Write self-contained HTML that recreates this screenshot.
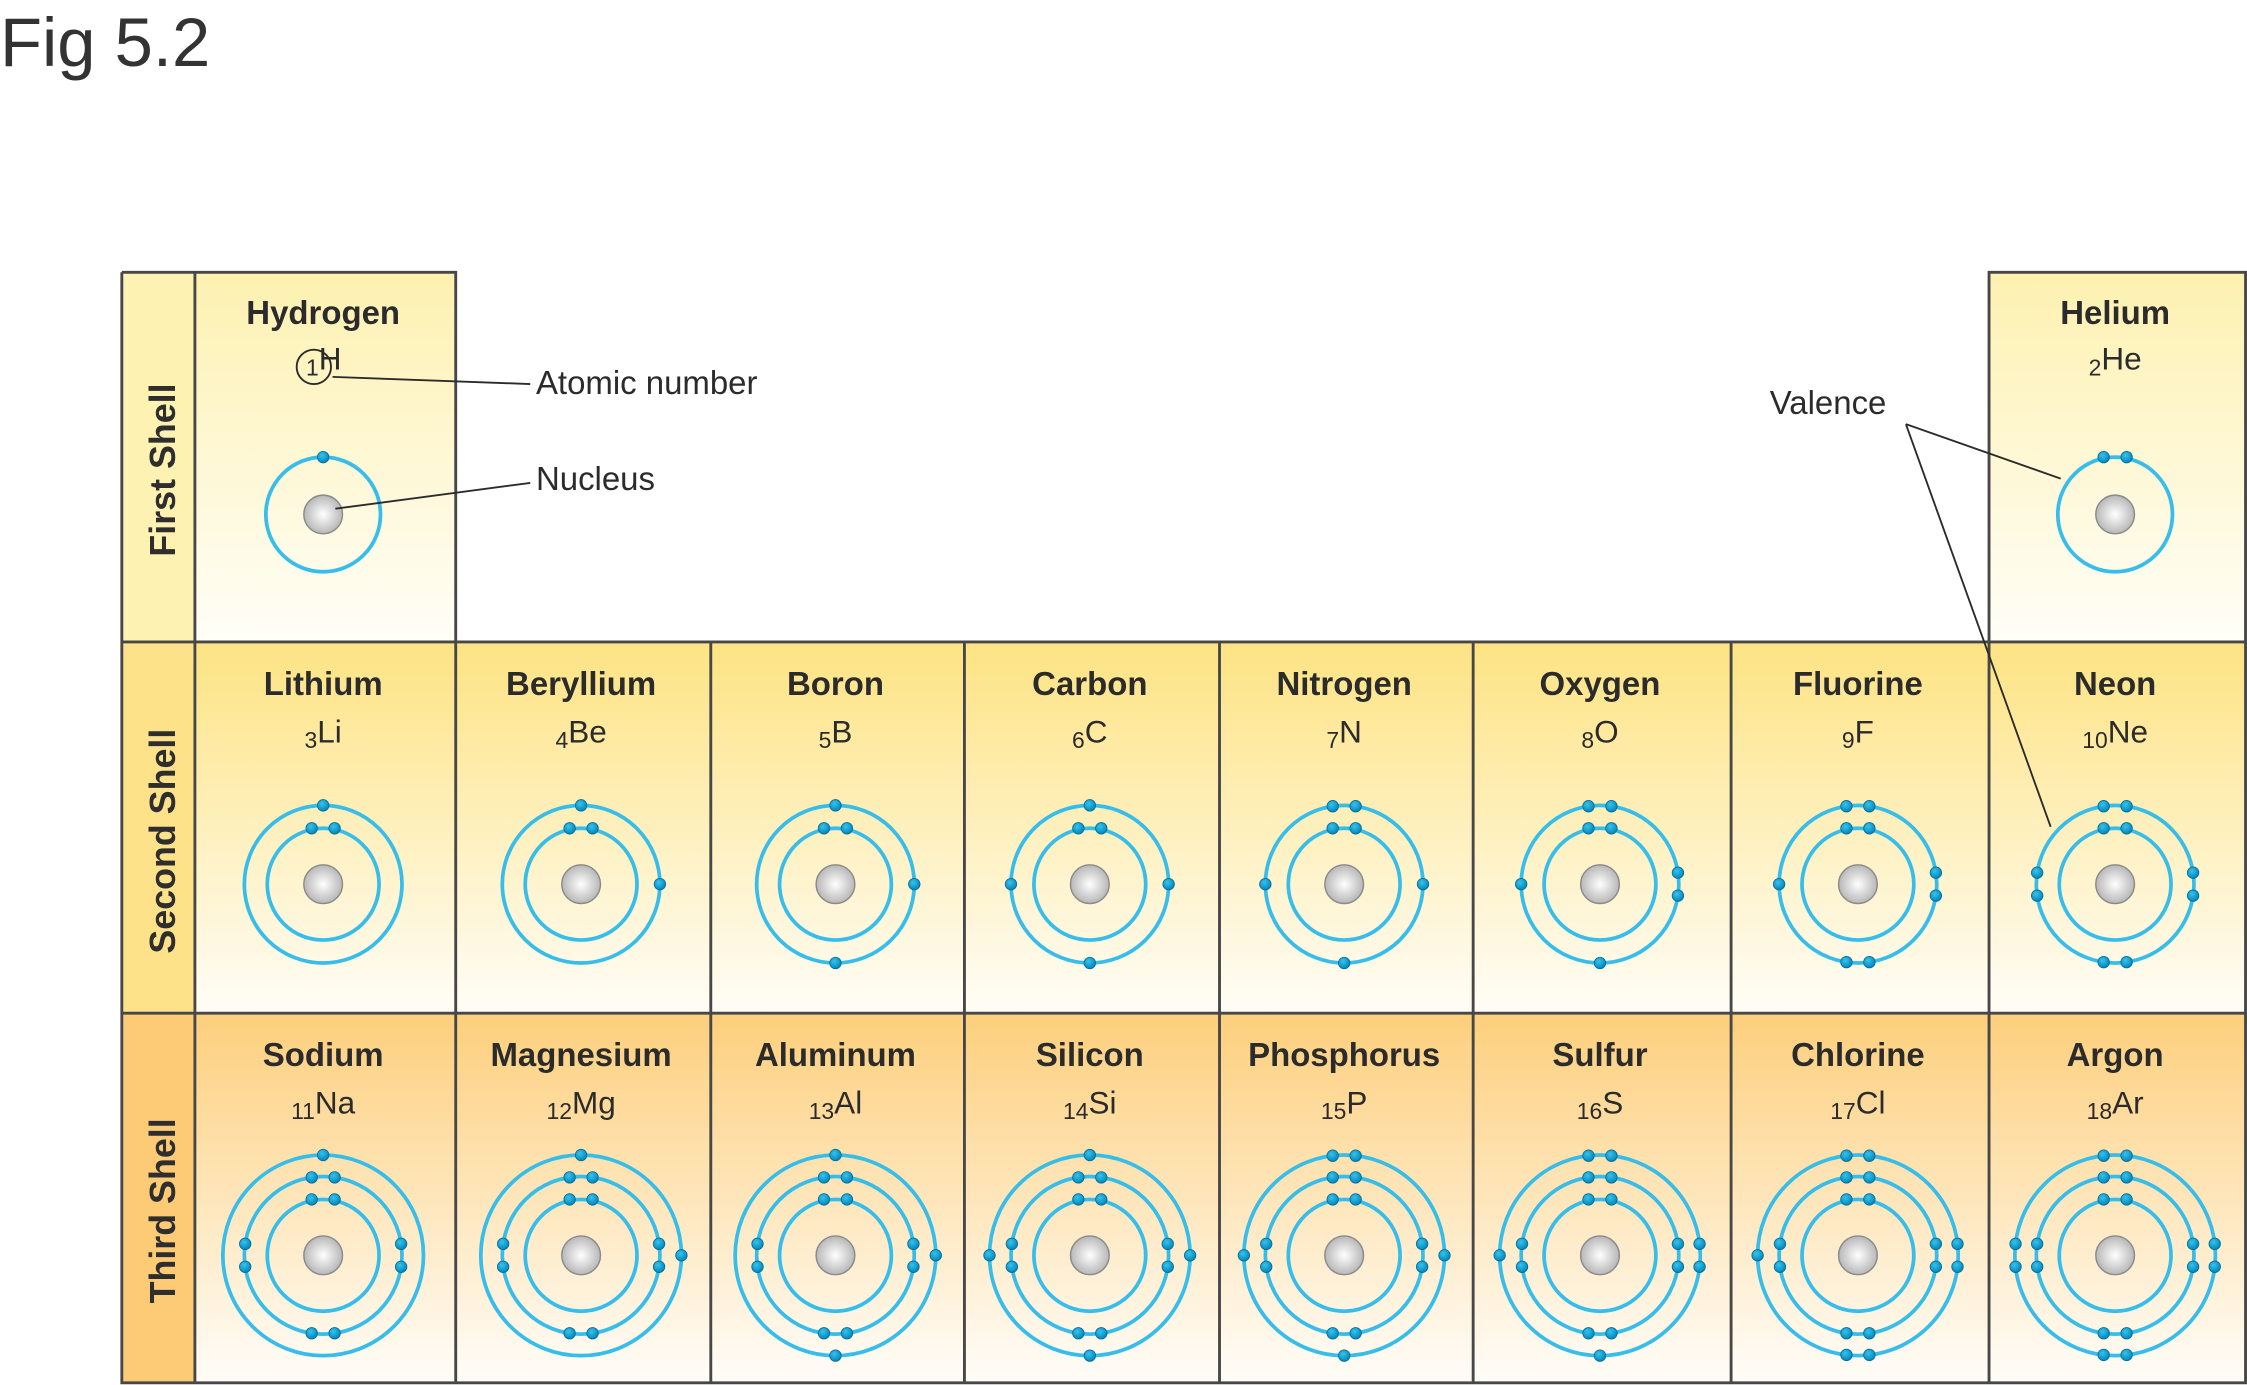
<!DOCTYPE html>
<html><head><meta charset="utf-8">
<style>
html,body{margin:0;padding:0;background:#fff;}
svg{display:block;}
text{font-family:"Liberation Sans","DejaVu Sans",sans-serif;fill:#2b2b2b;}
</style></head>
<body>
<div id="c"></div>
<script>
var W=1568,H=966.5;
var s='<svg xmlns="http://www.w3.org/2000/svg" width="2247" height="1385" viewBox="0 0 '+W+' '+H+'">';
s+='<defs>'+
'<linearGradient id="g1" x1="0" y1="0" x2="0" y2="1"><stop offset="0" stop-color="#fdf1b0"/><stop offset="1" stop-color="#fffef8"/></linearGradient>'+
'<linearGradient id="g2" x1="0" y1="0" x2="0" y2="1"><stop offset="0" stop-color="#fde383"/><stop offset="1" stop-color="#fffdf7"/></linearGradient>'+
'<linearGradient id="g3" x1="0" y1="0" x2="0" y2="1"><stop offset="0" stop-color="#fdcf7c"/><stop offset="1" stop-color="#fffdf9"/></linearGradient>'+
'<radialGradient id="nuc" cx="0.5" cy="0.5" r="0.6"><stop offset="0" stop-color="#ffffff"/><stop offset="1" stop-color="#a9a9a9"/></radialGradient>'+
'<radialGradient id="el" cx="0.4" cy="0.35" r="0.7"><stop offset="0" stop-color="#35c3ee"/><stop offset="1" stop-color="#0082b5"/></radialGradient>'+
'</defs>';
s+='<text x="0" y="46" font-size="48" style="fill:#333">Fig 5.2</text>';
var cols=[136,318,496,673,851,1028,1208,1388,1567];
var rows=[190,448,707,965];
var grads=['g1','g2','g3'];
var labCol=['#fdf2b2','#fde28a','#fdca75'];
for(var r=0;r<3;r++){
  s+='<rect x="85" y="'+rows[r]+'" width="51" height="'+(rows[r+1]-rows[r])+'" fill="'+labCol[r]+'"/>';
  for(var c=0;c<8;c++){
    if(r==0&&c>0&&c<7)continue;
    s+='<rect x="'+cols[c]+'" y="'+rows[r]+'" width="'+(cols[c+1]-cols[c])+'" height="'+(rows[r+1]-rows[r])+'" fill="url(#'+grads[r]+')"/>';
  }
}
var st='stroke="#474747" stroke-width="2" fill="none"';
s+='<path d="M85 190H318V448M85 190V965H1567V190H1388V448M136 190V965M85 448H1567M85 707H1567" '+st+'/>';
for(var c=1;c<8;c++){s+='<line x1="'+cols[c]+'" y1="448" x2="'+cols[c]+'" y2="965" '+st+'/>';}
var labs=['First Shell','Second  Shell','Third Shell'];
for(var r=0;r<3;r++){
 var cy=[328,587,845][r];
 s+='<text transform="translate(122,'+cy+') rotate(-90)" text-anchor="middle" font-size="25" font-weight="bold" style="fill:#2e2e2e">'+labs[r]+'</text>';}
var els=[
['Hydrogen','H',1,0,0],['Helium','He',2,0,7],
['Lithium','Li',3,1,0],['Beryllium','Be',4,1,1],['Boron','B',5,1,2],['Carbon','C',6,1,3],['Nitrogen','N',7,1,4],['Oxygen','O',8,1,5],['Fluorine','F',9,1,6],['Neon','Ne',10,1,7],
['Sodium','Na',11,2,0],['Magnesium','Mg',12,2,1],['Aluminum','Al',13,2,2],['Silicon','Si',14,2,3],['Phosphorus','P',15,2,4],['Sulfur','S',16,2,5],['Chlorine','Cl',17,2,6],['Argon','Ar',18,2,7]];
var centersY=[359,617,876],nameY=[226,485,744],symY=[258,518,777];
function el(x,y){return '<circle cx="'+x.toFixed(1)+'" cy="'+y.toFixed(1)+'" r="4" fill="url(#el)" stroke="#006f9c" stroke-width="0.6"/>';}
function dist(n){
 var t=[0,0,0,0],order=[0,1,2,3];
 if(n==4)return [1,1,1,1];
 if(n==5)return [2,1,1,1];
 if(n==6)return [2,2,1,1];
 if(n==7)return [2,2,2,1];
 if(n==8)return [2,2,2,2];
 for(var i=0;i<n;i++)t[order[i]]++;return t;}
function shellEls(cx,cy,R,n){
 var out='',d;
 if(R<45&&n<=2){ if(n==1)return el(cx,cy-R); return el(cx-8,cy-R)+el(cx+8,cy-R);}
 d=dist(n);
 var dirs=[[0,-1],[1,0],[0,1],[-1,0]];
 for(var k=0;k<4;k++){
  var cnt=d[k];if(!cnt)continue;
  var offs=cnt==1?[0]:[-8,8];
  for(var j=0;j<offs.length;j++){
   var o=offs[j],px,py;
   if(dirs[k][0]==0){px=cx+o;py=cy+dirs[k][1]*Math.sqrt(R*R-o*o);}
   else{py=cy+o;px=cx+dirs[k][0]*Math.sqrt(R*R-o*o);}
   out+=el(px,py);
  }
 }
 return out;}
els.forEach(function(e){
 var cx=(cols[e[4]]+cols[e[4]+1])/2-1.5,cy=centersY[e[3]],z=e[2];
 s+='<text x="'+cx+'" y="'+nameY[e[3]]+'" text-anchor="middle" font-size="23" font-weight="bold">'+e[0]+'</text>';
 if(z==1){s+='<text x="'+(cx-12)+'" y="'+symY[0]+'" font-size="22"><tspan font-size="16" dy="4">1</tspan><tspan dy="-4">H</tspan></text>';}
 else s+='<text x="'+cx+'" y="'+symY[e[3]]+'" text-anchor="middle" font-size="22"><tspan font-size="16" dy="4">'+z+'</tspan><tspan dy="-4">'+e[1]+'</tspan></text>';
 var radii=[40,55,70],shells=[];
 var rem=z;var cap=[2,8,8];for(var i=0;i<3&&rem>0;i++){var k=Math.min(rem,cap[i]);shells.push(k);rem-=k;}
 for(var i=0;i<shells.length;i++){var R=(shells.length==1)?40:radii[i]-(i==0?1:0);
   s+='<circle cx="'+cx+'" cy="'+cy+'" r="'+R+'" fill="none" stroke="#36bdea" stroke-width="2.6"/>';}
 s+='<circle cx="'+cx+'" cy="'+cy+'" r="13.5" fill="url(#nuc)" stroke="#8a8a8a" stroke-width="1"/>';
 for(var i=0;i<shells.length;i++){var R=(shells.length==1)?40:radii[i]-(i==0?1:0);
   s+=shellEls(cx,cy,R,shells[i]);}
});
s+='<circle cx="219" cy="256" r="12" fill="none" stroke="#2b2b2b" stroke-width="1.3"/>';
s+='<path d="M232 263L370 268M234 355L370 337M1330 296L1438 334M1330 296L1431 577" stroke="#2b2b2b" stroke-width="1.3" fill="none"/>';
s+='<text x="374" y="275" font-size="23">Atomic number</text>';
s+='<text x="374" y="342" font-size="23">Nucleus</text>';
s+='<text x="1235" y="289" font-size="23">Valence</text>';
s+='</svg>';
document.getElementById('c').innerHTML=s;
</script>
</body></html>
